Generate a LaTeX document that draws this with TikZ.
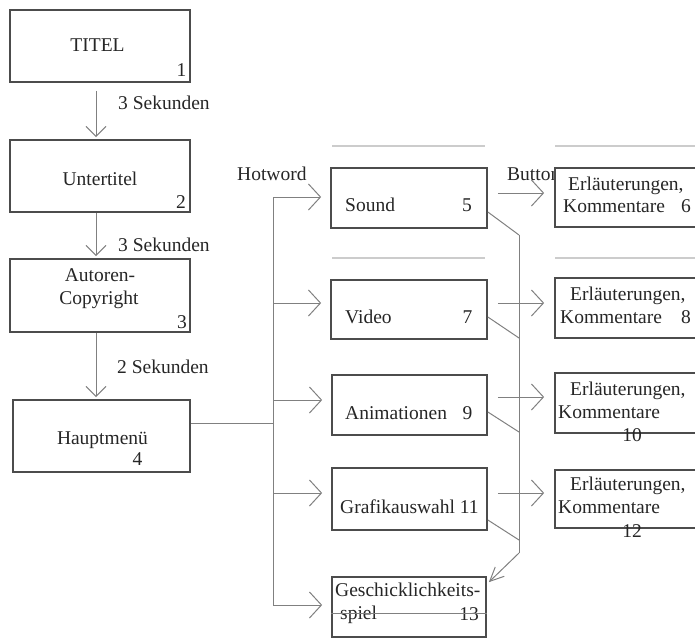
\documentclass[tikz,border=0pt]{standalone}
\usepackage{fontspec}
\setmainfont{Liberation Serif}
\usetikzlibrary{arrows.meta}
\definecolor{linec}{gray}{0.5}
\definecolor{boxc}{gray}{0.3}
\definecolor{txtc}{gray}{0.15}
\definecolor{rulec}{gray}{0.8}
\begin{document}
\begin{tikzpicture}[x=1pt,y=-1pt,
  box/.style={draw=boxc, line width=1.7pt, fill=white, inner sep=0pt},
  t/.style={inner sep=0pt, anchor=base west, text=txtc, font=\fontsize{19.5}{23}\selectfont},
  tc/.style={t, anchor=base},
  conn/.style={draw=linec, line width=1pt},
  harr/.style={conn, -{Straight Barb[length=12pt,width=26pt]}},
  varr/.style={conn, -{Straight Barb[length=10pt,width=20pt]}},
  narr/.style={conn, -{Straight Barb[length=14pt,width=13pt]}},
  rule/.style={draw=rulec, line width=1.5pt}]
\useasboundingbox (0,0) rectangle (695,639);
% label partly hidden by box 6
\node[t] (lbutton) at (507,180) {Button};
% boxes
\node[box, minimum width=180pt, minimum height=72pt] (b1) at (100,46) {};
\node[box, minimum width=180pt, minimum height=72pt] (b2) at (100,176) {};
\node[box, minimum width=180pt, minimum height=73pt] (b3) at (100,295.5) {};
\node[box, minimum width=177pt, minimum height=72pt] (b4) at (101.5,436) {};
\node[box, minimum width=156pt, minimum height=60pt] (b5) at (409,198) {};
\node[box, minimum width=156pt, minimum height=59pt] (b7) at (409,309.5) {};
\node[box, minimum width=155pt, minimum height=60pt] (b9) at (409.5,405) {};
\node[box, minimum width=155pt, minimum height=62pt] (b11) at (409.5,499) {};
\node[box, minimum width=154pt, minimum height=60pt] (b13) at (409,607) {};
\node[box, minimum width=155pt, minimum height=59pt] (b6) at (632.5,197.5) {};
\node[box, minimum width=155pt, minimum height=60pt] (b8) at (632.5,308) {};
\node[box, minimum width=155pt, minimum height=60pt] (b10) at (632.5,403) {};
\node[box, minimum width=155pt, minimum height=58pt] (b12) at (632.5,499) {};
% grey rules
\draw[rule] (332,146) -- (485,146);
\draw[rule] (555,146) -- (695,146);
\draw[rule] (332,258) -- (485,258);
\draw[rule] (555,258) -- (695,258);
% texts left column
\node[tc] (t1) at (97.5,52) {TITEL};
\node[tc] (n1) at (181.5,77) {1};
\node[tc] (t2) at (100,185) {Untertitel};
\node[tc] (n2) at (181,208) {2};
\node[tc] (t3a) at (100,281) {Autoren-};
\node[tc] (t3b) at (99,304) {Copyright};
\node[tc] (n3) at (182,328) {3};
\node[tc] (t4) at (102.5,444) {Hauptmenü};
\node[tc] (n4) at (137.5,465) {4};
\node[t] (s1) at (118,110) {3 Sekunden};
\node[t] (s2) at (118,251) {3 Sekunden};
\node[t] (s3) at (117,373) {2 Sekunden};
% middle column
\node[t] (lhot) at (237,180) {Hotword};
\node[t] (t5) at (345,211) {Sound};
\node[tc] (n5) at (467,211) {5};
\node[t] (t7) at (345,323) {Video};
\node[tc] (n7) at (467.5,323) {7};
\node[t] (t9) at (345,419) {Animationen};
\node[tc] (n9) at (467.5,419) {9};
\node[t] (t11) at (340,513) {Grafikauswahl 11};
\node[t] (t13a) at (335,596) {Geschicklichkeits-};
\node[t] (t13b) at (340,619) {spiel};
\node[tc] (n13) at (469,620) {13};
% right column
\node[t] (t6a) at (568,190) {Erläuterungen,};
\node[t] (t6b) at (563,212) {Kommentare};
\node[tc] (n6) at (686,212) {6};
\node[t] (t8a) at (570,300) {Erläuterungen,};
\node[t] (t8b) at (560,323) {Kommentare};
\node[tc] (n8) at (686,323) {8};
\node[t] (t10a) at (570,395) {Erläuterungen,};
\node[t] (t10b) at (558,418) {Kommentare};
\node[tc] (n10) at (632,441) {10};
\node[t] (t12a) at (570,490) {Erläuterungen,};
\node[t] (t12b) at (558,513) {Kommentare};
\node[tc] (n12) at (632,537) {12};
% left column arrows
\draw[varr, shorten <=8pt, shorten >=2pt] ([xshift=-4pt]b1.south) -- ([xshift=-4pt]b2.north);
\draw[varr, shorten >=2pt] ([xshift=-4pt]b2.south) -- ([xshift=-4pt]b3.north);
\coordinate (a3) at ([xshift=-4pt]b3.south);
\draw[varr, shorten >=2pt] (a3) -- (a3 |- b4.north);
% spine
\coordinate (hub) at (273,423);
\draw[conn] ([yshift=13pt]b4.east) -- (hub);
\coordinate (s5) at (273,197);
\coordinate (s7) at (273,303);
\coordinate (s9) at (273,400);
\coordinate (s11) at (273,493);
\coordinate (s13) at (273,605);
\draw[conn] (s5) -- (s13);
\foreach \n in {5,7,9,11,13} {\draw[harr, shorten >=9pt] (s\n) -- (s\n -| b\n.west);}
% middle to right arrows
\coordinate (r5) at ([yshift=5pt]b5.east);
\coordinate (r7) at ([yshift=6.5pt]b7.east);
\coordinate (r9) at ([yshift=8pt]b9.east);
\coordinate (r11) at ([yshift=6pt]b11.east);
\draw[harr, shorten <=10pt, shorten >=10pt] (r5) -- (r5 -| b6.west);
\draw[harr, shorten <=10pt, shorten >=10pt] (r7) -- (r7 -| b8.west);
\draw[harr, shorten <=10pt, shorten >=10pt] (r9) -- (r9 -| b10.west);
\draw[harr, shorten <=10pt, shorten >=10pt] (r11) -- (r11 -| b12.west);
% diagonals to collector
\coordinate (d5) at (519,235);
\coordinate (d7) at (519,338);
\coordinate (d9) at (519,432);
\coordinate (d11) at (519,540);
\coordinate (dB) at (519,553);
\draw[conn] ([yshift=-14pt]b5.east) -- (d5);
\draw[conn] ([yshift=-7.5pt]b7.east) -- (d7);
\draw[conn] ([yshift=-7pt]b9.east) -- (d9);
\draw[conn] ([yshift=-21pt]b11.east) -- (d11);
\draw[conn] (d5) -- (dB);
\draw[narr] (dB) -- ([shift={(2pt,-6pt)}]b13.north east);
% line inside box 13
\draw[conn] ([yshift=-6pt]b13.west) -- ([yshift=-6pt]b13.east);
\end{tikzpicture}
\end{document}
